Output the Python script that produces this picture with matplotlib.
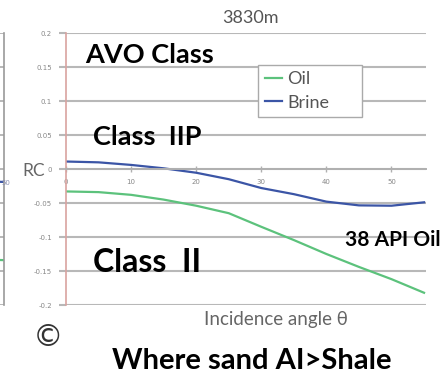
import matplotlib
matplotlib.use("Agg")
import matplotlib.pyplot as plt
from matplotlib.patches import Rectangle

plt.rcParams['font.family'] = ['Lato', 'DejaVu Sans']

# Reflection coefficient vs incidence angle at 3830 m
angles = [0, 5, 10, 15, 20, 25, 30, 35, 40, 45, 50, 55]
brine_rc = [0.011, 0.0098, 0.006, 0.001, -0.0055, -0.015, -0.028, -0.037, -0.048, -0.0535, -0.054, -0.049]
oil_rc = [-0.033, -0.034, -0.038, -0.045, -0.054, -0.065, -0.085, -0.1045, -0.125, -0.144, -0.162, -0.182]

y_ticks = [0.2, 0.15, 0.1, 0.05, 0, -0.05, -0.1, -0.15, -0.2]
y_tick_labels = ['0.2', '0.15', '0.1', '0.05', '0', '-0.05', '-0.1', '-0.15', '-0.2']
x_ticks = [0, 10, 20, 30, 40, 50]

# tail ends of the neighbouring panel's curves
prev_angles = [48, 52]
prev_brine = [-0.018, -0.019]
prev_oil = [-0.133, -0.134]

GREEN = '#5cc27c'
BLUE = '#3b55a6'
GRID = '#b8b8b8'

W, H = 441, 376
fig = plt.figure(figsize=(W / 100, H / 100), dpi=100)


def fx(px):
    return px / W


def fy(py):
    return 1 - py / H


ax_l, ax_r, ax_t, ax_b = 66, 426, 33, 305

# neighbouring panel (mostly outside the frame)
ax0 = fig.add_axes([fx(-300), fy(ax_b), fx(303.5), fy(ax_t) - fy(ax_b)])
ax0.set_xlim(0, 52)
ax0.set_ylim(-0.2, 0.2)
ax0.set_yticks(y_ticks)
ax0.grid(axis='y', color=GRID, lw=1.4)
ax0.plot(prev_angles, prev_brine, color=BLUE, lw=1.6)
ax0.plot(prev_angles, prev_oil, color=GREEN, lw=1.6)
for s in ['top', 'left', 'bottom']:
    ax0.spines[s].set_visible(False)
ax0.spines['right'].set_color('#9a9a9a')
ax0.spines['right'].set_linewidth(1.2)
ax0.tick_params(left=False, labelleft=False, bottom=False, labelbottom=False)
fig.text(fx(6), fy(183), '50', fontsize=5, color='#8a8fb0', ha='center', va='center',
         family=['DejaVu Sans'])

# main panel
ax = fig.add_axes([fx(ax_l), fy(ax_b), fx(ax_r - ax_l), fy(ax_t) - fy(ax_b)])
ax.set_xlim(0, 55.3)
ax.set_ylim(-0.2, 0.2)
ax.spines['bottom'].set_position(('data', 0))
ax.set_yticks(y_ticks)
ax.set_yticklabels(y_tick_labels, fontsize=5, color='#888888', family=['DejaVu Sans'])
ax.grid(axis='y', color=GRID, lw=1.5)
ax.set_axisbelow(True)
ax.tick_params(axis='y', length=5, color=GRID, width=1.5, pad=5)

ax.set_xticks(x_ticks)
ax.set_xticklabels([str(t) for t in x_ticks], fontsize=5, color='#888888', family=['DejaVu Sans'])
ax.spines['bottom'].set_color('#b0b0b0')
ax.spines['bottom'].set_linewidth(1.4)
ax.tick_params(axis='x', direction='inout', length=5, color='#b0b0b0', width=1.0, pad=5)
ax.spines['top'].set_visible(False)
ax.spines['right'].set_visible(False)
ax.spines['left'].set_color('#d9a3a0')
ax.spines['left'].set_linewidth(1.2)

ax.plot(angles, oil_rc, color=GREEN, lw=1.6, label='Oil')
ax.plot(angles, brine_rc, color=BLUE, lw=1.6, label='Brine')

# legend box: drawn as its own frame so it can be wider than the entries
fig.patches.append(Rectangle((fx(258), fy(117)), fx(104), fy(65) - fy(117),
                             transform=fig.transFigure, facecolor='white',
                             edgecolor='#aaaaaa', linewidth=1.0, zorder=5))
leg = fig.legend(loc='upper left', bbox_to_anchor=(fx(260), fy(66)),
                 fontsize=13, handlelength=0.9, handletextpad=0.3,
                 frameon=False, borderpad=0.3, labelspacing=0.4, borderaxespad=0)
leg.set_zorder(6)
for t in leg.get_texts():
    t.set_color('#555555')

# titles and annotations
fig.text(fx(250), fy(18), '3830m', fontsize=13, color='#555555', ha='center', va='center')
fig.text(fx(34), fy(171), 'RC', fontsize=12.5, color='#666666', ha='center', va='center')
fig.text(fx(276), fy(320), 'Incidence angle θ', fontsize=13.5, color='#666666', ha='center', va='center')

fig.text(fx(85), fy(55), 'AVO Class', fontsize=19.5, fontweight='bold', color='black', ha='left', va='center')
fig.text(fx(93), fy(137), 'Class  IIP', fontsize=19.5, fontweight='bold', color='black', ha='left', va='center')
fig.text(fx(93), fy(263), 'Class  II', fontsize=23, fontweight='bold', color='black', ha='left', va='center')
fig.text(fx(345), fy(240), '38 API Oil', fontsize=15, fontweight='bold', color='black', ha='left', va='center')
fig.text(fx(252), fy(361), 'Where sand AI>Shale', fontsize=21, fontweight='bold', color='black', ha='center', va='center')
fig.text(fx(48), fy(337), '©', fontsize=22, color='#333333', ha='center', va='center',
         family=['DejaVu Sans'])

fig.savefig('out.png', dpi=100)
